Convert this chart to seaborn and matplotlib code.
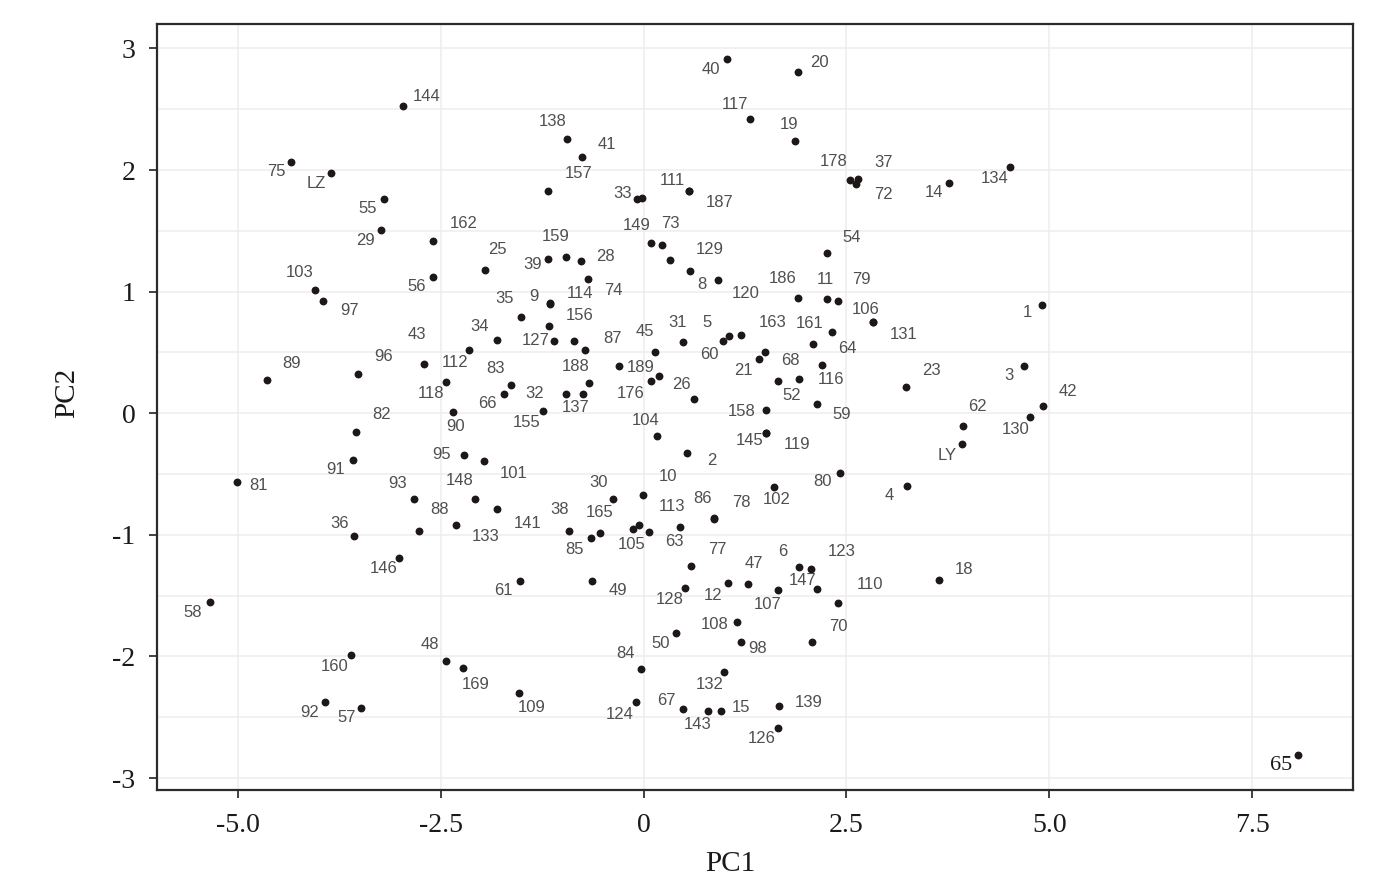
import pandas as pd
import matplotlib.pyplot as plt
import seaborn as sns

# sample ids ("" = point that carries no label in the figure)
ids = [
    "40", "20", "144", "117", "138", "19", "41", "75", "LZ", "157",
    "178", "37", "72", "134", "14", "33", "", "111", "187", "55",
    "162", "29", "149", "73", "129", "8", "120", "54", "159", "39",
    "28", "25", "56", "103", "97", "186", "11", "79", "106", "131",
    "74", "9", "114", "156", "35", "127", "", "87", "189", "176",
    "", "45", "188", "137", "32", "31", "60", "5", "163", "161",
    "64", "116", "52", "68", "", "21", "59", "26", "104", "158",
    "145", "119", "2", "80", "102", "10", "30", "86", "78", "113",
    "63", "105", "", "165", "85", "38", "23", "62", "LY", "4",
    "1", "3", "42", "130", "65", "77", "128", "12", "47", "107",
    "6", "123", "147", "110", "70", "18", "49", "108", "50", "98",
    "84", "132", "124", "67", "143", "15", "139", "126", "36", "88",
    "133", "93", "148", "141", "146", "61", "58", "160", "48", "169",
    "109", "92", "57", "89", "96", "43", "112", "34", "118", "83",
    "66", "155", "90", "82", "91", "95", "101", "81",
]

pc1 = [
    1.030, 1.901, -2.973, 1.313, -0.941, 1.868, -0.762, -4.347, -3.857, -1.181,
    2.543, 2.645, 2.617, 4.515, 3.767, -0.080, -0.018, 0.554, 0.558, -3.200,
    -2.599, -3.240, 0.089, 0.221, 0.319, 0.570, 0.915, 2.255, -0.963, -1.185,
    -0.778, -1.954, -2.599, -4.051, -3.952, 1.901, 2.259, 2.398, 2.822, 2.826,
    -0.684, -1.160, -1.156, -1.169, -1.514, -1.111, -0.864, -0.721, -0.309, 0.085,
    0.191, 0.134, -0.672, -0.746, -0.959, 0.487, 0.980, 1.051, 1.202, 2.083,
    2.321, 2.194, 1.917, 1.658, 1.498, 1.424, 2.139, 0.615, 0.159, 1.507,
    1.503, 1.507, 0.536, 2.419, 1.609, -0.006, -0.376, 0.866, 0.870, 0.443,
    0.068, -0.137, -0.059, -0.536, -0.655, -0.919, 3.229, 3.932, 3.924, 3.242,
    4.910, 4.692, 4.926, 4.762, 8.070, 0.582, 0.504, 1.038, 1.289, 1.658,
    1.910, 2.058, 2.139, 2.398, 2.074, 3.640, -0.639, 1.149, 0.397, 1.195,
    -0.035, 0.985, -0.096, 0.483, 0.795, 0.952, 1.671, 1.655, -3.570, -2.772,
    -2.316, -2.837, -2.085, -1.806, -3.015, -1.523, -5.345, -3.610, -2.439, -2.233,
    -1.539, -3.927, -3.483, -4.646, -3.520, -2.714, -2.159, -1.810, -2.439, -1.634,
    -1.727, -1.247, -2.356, -3.549, -3.586, -2.213, -1.970, -5.016,
]

pc2 = [
    2.914, 2.807, 2.530, 2.420, 2.256, 2.239, 2.110, 2.069, 1.974, 1.826,
    1.921, 1.927, 1.886, 2.026, 1.896, 1.762, 1.768, 1.828, 1.824, 1.765,
    1.419, 1.507, 1.400, 1.382, 1.261, 1.173, 1.099, 1.316, 1.288, 1.269,
    1.255, 1.181, 1.123, 1.016, 0.924, 0.951, 0.938, 0.926, 0.753, 0.750,
    1.104, 0.905, 0.902, 0.718, 0.794, 0.597, 0.595, 0.523, 0.387, 0.263,
    0.309, 0.504, 0.247, 0.159, 0.159, 0.584, 0.597, 0.638, 0.641, 0.572,
    0.669, 0.397, 0.280, 0.266, 0.507, 0.444, 0.074, 0.118, -0.184, 0.027,
    -0.160, -0.163, -0.326, -0.488, -0.609, -0.672, -0.705, -0.863, -0.866, -0.933,
    -0.974, -0.954, -0.919, -0.982, -1.028, -0.968, 0.219, -0.104, -0.255, -0.595,
    0.891, 0.387, 0.058, -0.030, -2.813, -1.253, -1.439, -1.398, -1.404, -1.453,
    -1.266, -1.283, -1.447, -1.558, -1.881, -1.371, -1.379, -1.714, -1.804, -1.883,
    -2.105, -2.130, -2.377, -2.429, -2.451, -2.448, -2.405, -2.586, -1.009, -0.968,
    -0.916, -0.702, -0.702, -0.789, -1.190, -1.377, -1.549, -1.985, -2.037, -2.097,
    -2.300, -2.377, -2.421, 0.276, 0.323, 0.405, 0.521, 0.603, 0.260, 0.235,
    0.159, 0.019, 0.008, -0.154, -0.382, -0.340, -0.395, -0.565,
]

# where each label sits relative to its point, in pixels (right, down)
label_dx = [
    -16, 22, 24, -15, -15, -6, 25, -15, -15, 31,
    -16, 25, 27, -15, -15, -15, 0, -16, 31, -16,
    31, -15, -14, 9, 40, 12, 28, 25, -10, -15,
    25, 12, -16, -15, 26, -15, -2, 23, -7, 31,
    25, -16, 30, 31, -16, -18, 0, 27, 22, -20,
    0, -10, -14, -8, -31, -6, -14, -22, 31, -3,
    15, 9, -7, 12, 0, -16, 25, -12, -11, -24,
    -16, 31, 25, -17, 3, 25, -15, -11, 27, -8,
    25, -1, 0, -1, -16, -10, 26, 15, -15, -17,
    -15, -15, 25, -14, -17, 26, -15, -15, 6, -11,
    -16, 31, -15, 32, 26, 25, 26, -22, -15, 17,
    -15, -14, -16, -16, -11, 20, 29, -16, -15, 21,
    30, -16, -15, 30, -15, -17, -17, -16, -16, 13,
    13, -16, -15, 25, 25, -7, -13, -17, -15, -16,
    -16, -16, 3, 26, -17, -23, 30, 22,
]
label_dy = [
    11, -9, -9, -14, -17, -16, -12, 10, 10, -18,
    -18, -16, 11, 12, 10, -5, 0, -10, 11, 10,
    -17, 10, -18, -22, -10, 14, 14, -16, -20, 6,
    -4, -20, 10, -17, 10, -19, -20, -21, -12, 12,
    11, -7, -10, -10, -18, 0, 0, -11, 1, 12,
    0, -20, -17, 14, 0, -20, 14, -13, -13, -20,
    17, 15, 16, -20, 0, 11, 10, -14, -15, 2,
    8, 11, 8, 9, 12, -18, -16, -20, -16, -20,
    10, 15, 0, -20, 11, -21, -16, -19, 11, 10,
    8, 9, -15, 13, 10, -16, 11, 12, -20, 15,
    -16, -18, -9, -18, -16, -10, 10, 3, 11, 6,
    -16, 12, 12, -8, 13, -3, -3, 11, -12, -21,
    12, -15, -18, 14, 11, 10, 11, 12, -16, 16,
    15, 10, 10, -16, -17, -30, 13, -13, 12, -16,
    10, 12, 14, -17, 10, 0, 12, 4,
]

x_ticks = [-5.0, -2.5, 0, 2.5, 5.0, 7.5]
x_tick_labels = ["-5.0", "-2.5", "0", "2.5", "5.0", "7.5"]
y_ticks = [-3, -2, -1, 0, 1, 2, 3]
y_tick_labels = ["-3", "-2", "-1", "0", "1", "2", "3"]

df = pd.DataFrame({"id": ids, "PC1": pc1, "PC2": pc2})

sns.set_theme(style="white")
plt.rcParams["font.family"] = ["Liberation Serif", "DejaVu Serif"]

fig = plt.figure(figsize=(14, 8.81), dpi=100)
ax = fig.add_axes([157 / 1400, 1 - 790 / 881, 1196 / 1400, 766 / 881])

sns.scatterplot(data=df, x="PC1", y="PC2", color="#1d1718", s=32,
                linewidth=0, ax=ax, zorder=3)

for t, x, y, dx, dy in zip(ids, pc1, pc2, label_dx, label_dy):
    if not t:
        continue
    if t == "65":
        ax.annotate(t, (x, y), xytext=(dx, -dy), textcoords="offset pixels",
                    ha="center", va="center", fontsize=16, color="#1a1a1a",
                    family=["Liberation Serif", "DejaVu Serif"])
    else:
        ax.annotate(t, (x, y), xytext=(dx, -dy), textcoords="offset pixels",
                    ha="center", va="center", fontsize=12, color="#4f4f4f",
                    family=["Liberation Sans", "DejaVu Sans"])

ax.set_xlim(-6.0, 8.745)
ax.set_ylim(-3.098, 3.201)
ax.set_xticks(x_ticks)
ax.set_xticklabels(x_tick_labels)
ax.set_yticks(y_ticks)
ax.set_yticklabels(y_tick_labels)
ax.set_yticks([-2.5, -1.5, -0.5, 0.5, 1.5, 2.5], minor=True)

ax.set_axisbelow(True)
ax.grid(True, axis="y", which="both", color="#ededed", linewidth=1.1)
ax.grid(True, axis="x", which="major", color="#ededed", linewidth=1.1)

for s in ax.spines.values():
    s.set_color("#2b2b2b")
    s.set_linewidth(1.6)

ax.tick_params(axis="both", which="major", direction="out", length=5.5,
               width=1.3, color="#333333", labelsize=20, labelcolor="#1a1a1a",
               bottom=True, left=True)
ax.tick_params(axis="x", pad=11)
ax.tick_params(axis="y", pad=10)
ax.tick_params(axis="y", which="minor", length=0, left=False)

ax.set_xlabel("PC1", fontsize=21, color="#1a1a1a")
ax.set_ylabel("PC2", fontsize=21, color="#1a1a1a")
ax.xaxis.label.set_va("center")
ax.yaxis.label.set_va("center")
ax.xaxis.set_label_coords(0.479, -0.097)
ax.yaxis.set_label_coords(-0.075, 0.518)

plt.savefig("out.png", dpi=100)
